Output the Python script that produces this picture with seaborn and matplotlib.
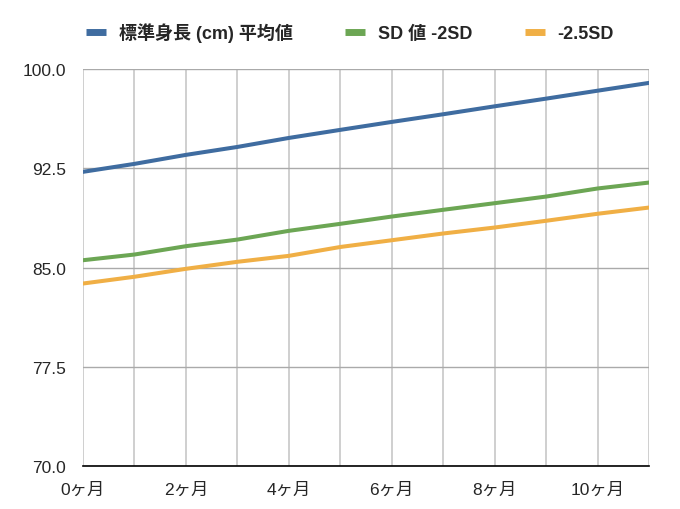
import matplotlib
matplotlib.use("Agg")
import matplotlib.pyplot as plt
import seaborn as sns
import pandas as pd
import numpy as np
from matplotlib.lines import Line2D

months = list(range(12))
mean_height = [92.23, 92.83, 93.51, 94.11, 94.79, 95.40, 96.00, 96.58, 97.18, 97.76, 98.36, 98.95]
sd_minus2 = [85.55, 85.98, 86.61, 87.11, 87.77, 88.30, 88.85, 89.36, 89.86, 90.36, 90.97, 91.42]
sd_minus25 = [83.79, 84.30, 84.90, 85.43, 85.88, 86.55, 87.06, 87.57, 88.02, 88.53, 89.06, 89.53]
series_names = ["標準身長 (cm) 平均値", "SD 値 -2SD", "-2.5SD"]
xtick_vals = [0, 2, 4, 6, 8, 10]
xtick_labels = ["0ヶ月", "2ヶ月", "4ヶ月", "6ヶ月", "8ヶ月", "10ヶ月"]
ytick_vals = [70.0, 77.5, 85.0, 92.5, 100.0]
colors = ["#3F6CA0", "#6CA654", "#F0AF45"]

df = pd.DataFrame({
    "month": months * 3,
    "value": mean_height + sd_minus2 + sd_minus25,
    "series": [series_names[0]] * 12 + [series_names[1]] * 12 + [series_names[2]] * 12,
})

sns.set_theme(style="white")
plt.rcParams["font.family"] = ["Liberation Sans", "Noto Sans CJK JP", "DejaVu Sans"]

fig = plt.figure(figsize=(6.8, 5.1), dpi=100)
ax = fig.add_axes([83/680, 1 - 467/510, (649 - 83)/680, (467 - 70)/510])

sns.lineplot(data=df, x="month", y="value", hue="series", palette=colors,
             linewidth=2.9, ax=ax, legend=False, zorder=3)

ax.set_xlim(0, 11)
ax.set_ylim(70, 100)
ax.set_xticks(months, minor=True)
ax.set_xticks(xtick_vals)
ax.set_xticklabels(xtick_labels, fontsize=12.5)
ax.set_yticks(ytick_vals)
ax.set_yticklabels([f"{v:.1f}" for v in ytick_vals], fontsize=12.5)
ax.tick_params(axis="both", which="both", length=0)
ax.tick_params(axis="y", pad=12)
ax.tick_params(axis="x", pad=11)
ax.grid(True, which="both", axis="x", color="#CCCCCC", linewidth=1.3)
ax.grid(True, which="major", axis="y", color="#AAAAAA", linewidth=1.0)
ax.set_xlabel("")
ax.set_ylabel("")
for s in ["left", "right", "top"]:
    ax.spines[s].set_visible(False)
ax.spines["bottom"].set_color("black")
ax.spines["bottom"].set_linewidth(1.2)
ax.spines["bottom"].set_zorder(4)

handles = [Line2D([0], [0], color=c, linewidth=5, solid_capstyle="butt") for c in colors]
fig.legend(handles, series_names, loc="center", bbox_to_anchor=(350/680, 1 - 33/510),
           ncol=3, frameon=False, handlelength=1.1, columnspacing=2.9,
           handletextpad=0.72, prop={"weight": "bold", "size": 13})

fig.savefig("out.png", dpi=100)
